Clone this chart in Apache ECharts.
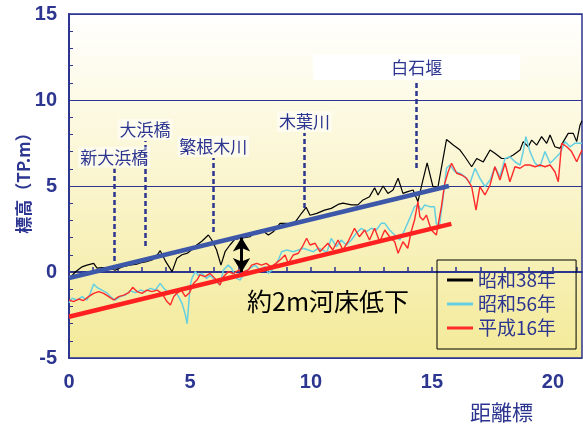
<!DOCTYPE html>
<html>
<head>
<meta charset="utf-8">
<script src="https://cdn.jsdelivr.net/npm/echarts@6/dist/echarts.min.js"></script>
<style>
  html, body { margin: 0; padding: 0; background: #fff; }
  #chart { width: 583px; height: 427px; }
</style>
</head>
<body>
<div id="chart"></div>
<script>
// 河床縦断（距離標 km, 標高 TP.m）
const seriesNames = ['昭和38年', '昭和56年', '平成16年'];

const bedS38 = [
  [0, -0.4], [0.26, 0.0], [0.54, 0.3], [0.74, 0.4], [1.02, 0.5], [1.16, 0.23], [1.36, 0.25], [1.64, 0.25],
  [1.9, 0.1], [2.2, 0.3], [2.5, 0.4], [2.8, 0.45], [3.0, 0.55], [3.2, 0.6], [3.43, 0.7], [3.6, 0.9],
  [3.77, 1.24], [4.0, 0.6], [4.26, 0.02], [4.46, 0.8], [4.67, 1.0], [4.9, 1.1], [5.15, 1.38], [5.28, 1.57],
  [5.5, 1.8], [5.76, 2.15], [5.9, 1.86], [6.1, 1.28], [6.28, 0.4], [6.45, 1.18], [6.65, 1.57], [6.85, 1.9],
  [7.05, 1.95], [7.25, 2.0], [7.48, 2.05], [7.69, 2.34], [7.96, 2.44], [8.24, 2.15], [8.44, 2.34], [8.72, 2.83],
  [9.0, 2.83], [9.2, 2.7], [9.4, 3.0], [9.6, 3.4], [9.8, 3.76], [9.96, 3.3], [10.24, 3.41], [10.56, 3.6],
  [10.84, 3.7], [11.12, 3.93], [11.32, 4.0], [11.67, 3.9], [11.94, 3.9], [12.15, 4.19], [12.42, 4.38], [12.63, 4.9],
  [12.77, 4.48], [12.98, 5.0], [13.18, 4.57], [13.39, 4.77], [13.6, 5.45], [13.8, 4.57], [14.0, 4.67], [14.22, 4.77],
  [14.42, 4.09], [14.6, 5.2], [14.8, 6.35], [15.04, 4.96], [15.25, 4.96], [15.6, 7.7], [15.88, 7.38], [16.16, 7.09],
  [16.36, 6.7], [16.64, 6.12], [16.85, 6.6], [17.12, 6.4], [17.4, 7.09], [17.6, 6.9], [17.88, 6.6], [18.09, 6.6],
  [18.36, 6.8], [18.64, 7.09], [18.77, 7.58], [18.98, 7.28], [19.12, 7.67], [19.33, 7.38], [19.53, 7.87], [19.74, 7.48],
  [19.88, 7.96], [20.08, 7.28], [20.29, 7.19], [20.43, 7.58], [20.63, 8.06], [20.84, 8.06], [20.98, 7.58], [21.12, 8.55],
  [21.2, 8.8]
];

const bedS56 = [
  [0, -1.8], [0.12, -1.53], [0.33, -1.63], [0.54, -1.43], [0.74, -1.63], [0.88, -1.24], [1.02, -0.7], [1.16, -0.9],
  [1.36, -1.05], [1.55, -1.2], [1.71, -1.43], [1.91, -1.63], [2.12, -1.43], [2.33, -1.34], [2.53, -1.09], [2.74, -1.2],
  [2.95, -1.05], [3.15, -1.14], [3.36, -0.95], [3.57, -1.05], [3.77, -0.66], [3.92, -0.95], [4.12, -1.24], [4.33, -1.05],
  [4.53, -1.43], [4.67, -1.82], [4.81, -2.5], [4.88, -3.0], [4.94, -2.0], [5.0, -0.85], [5.08, -0.37], [5.22, 0.02],
  [5.35, -0.2], [5.48, -0.08], [5.69, -0.37], [5.83, -0.17], [6.03, -0.47], [6.24, -0.76], [6.38, 0.12], [6.58, 0.4],
  [6.72, 0.21], [6.93, -0.37], [7.07, -0.47], [7.27, 0.02], [7.48, 0.21], [7.69, 0.4], [7.89, 0.12], [8.1, 0.31],
  [8.24, -0.08], [8.45, 0.2], [8.65, 0.7], [8.79, 1.18], [9.0, 1.28], [9.27, 1.18], [9.48, 1.28], [9.68, 1.38],
  [9.89, 1.28], [10.1, 1.18], [10.3, 1.38], [10.5, 1.28], [10.65, 1.1], [10.84, 1.96], [11.05, 1.47], [11.25, 1.86],
  [11.46, 1.57], [11.67, 1.86], [11.87, 2.25], [12.08, 2.54], [12.29, 2.34], [12.49, 2.54], [12.7, 2.44], [12.9, 2.83],
  [13.05, 2.83], [13.25, 2.44], [13.46, 2.15], [13.67, 1.86], [13.87, 2.44], [14.08, 3.12], [14.28, 3.8], [14.42, 3.9],
  [14.56, 3.6], [14.7, 3.9], [14.9, 3.8], [15.1, 3.8], [15.18, 2.83], [15.3, 2.6], [15.45, 4.19], [15.6, 6.03],
  [15.74, 6.22], [15.95, 5.83], [16.16, 5.74], [16.36, 5.54], [16.57, 5.16], [16.78, 6.03], [16.98, 5.45], [17.19, 4.96],
  [17.4, 5.35], [17.6, 6.12], [17.81, 5.54], [18.02, 6.6], [18.22, 6.7], [18.43, 6.41], [18.64, 6.22], [18.77, 7.0],
  [18.88, 7.87], [19.05, 7.0], [19.26, 6.32], [19.46, 6.12], [19.67, 7.0], [19.88, 6.32], [20.08, 6.6], [20.29, 6.9],
  [20.5, 7.58], [20.7, 7.28], [20.9, 7.48], [21.2, 7.48]
];

const bedH16 = [
  [0, -1.63], [0.19, -1.72], [0.4, -1.57], [0.6, -1.66], [0.81, -1.43], [1.02, -1.24], [1.23, -1.14], [1.43, -1.24],
  [1.64, -1.43], [1.85, -1.63], [2.05, -1.43], [2.26, -1.34], [2.47, -1.2], [2.63, -0.89], [2.81, -1.14], [3.02, -1.24],
  [3.22, -1.05], [3.43, -1.14], [3.64, -1.05], [3.84, -1.24], [4.05, -1.72], [4.19, -1.92], [4.33, -1.43], [4.46, -1.24],
  [4.64, -1.05], [4.81, -1.43], [4.98, -1.2], [5.15, -0.66], [5.29, -0.47], [5.41, -0.17], [5.62, -0.27], [5.83, -0.08],
  [6.03, -0.37], [6.24, -0.76], [6.38, -0.27], [6.58, 0.02], [6.78, -0.1], [7.0, 0.1], [7.2, 0.0], [7.41, 0.12],
  [7.55, 0.4], [7.76, 0.5], [7.96, 0.4], [8.15, 0.5], [8.35, 0.3], [8.55, 0.5], [8.72, 0.7], [8.93, 0.99],
  [9.06, 0.5], [9.27, 0.99], [9.48, 1.09], [9.68, 1.57], [9.82, 1.96], [9.96, 1.57], [10.17, 1.67], [10.37, 1.18],
  [10.5, 1.38], [10.7, 1.67], [10.9, 1.28], [11.12, 1.86], [11.32, 1.28], [11.53, 1.76], [11.8, 2.54], [12.0, 2.05],
  [12.22, 2.44], [12.42, 1.86], [12.63, 2.54], [12.84, 1.76], [13.05, 2.44], [13.25, 2.05], [13.46, 1.76], [13.6, 1.09],
  [13.8, 1.76], [14.0, 1.38], [14.14, 2.34], [14.28, 3.02], [14.42, 4.09], [14.5, 3.21], [14.63, 3.02], [14.77, 3.31],
  [14.97, 2.44], [15.18, 2.15], [15.25, 2.05], [15.39, 3.8], [15.53, 5.16], [15.67, 5.83], [15.81, 6.32], [16.02, 5.74],
  [16.23, 5.64], [16.43, 5.45], [16.64, 4.96], [16.82, 3.6], [16.98, 4.96], [17.19, 4.48], [17.4, 5.06], [17.6, 6.12],
  [17.81, 5.35], [18.02, 6.32], [18.22, 5.25], [18.43, 6.12], [18.64, 6.03], [18.84, 6.22], [19.05, 6.22], [19.26, 6.12],
  [19.46, 6.22], [19.67, 6.12], [19.88, 6.22], [20.08, 5.83], [20.22, 5.25], [20.36, 7.48], [20.57, 7.28], [20.77, 7.0],
  [20.98, 6.41], [21.2, 7.09]
];

// 平均河床の傾向線（始点・終点）
const trendS38 = [[0, -0.35], [15.7, 5.0]];
const trendH16 = [[0, -2.6], [15.8, 2.8]];

// 河床低下量 (m)
const dropKm = 7.13;
const dropFrom = 0;
const dropTo = 2;

// 主要地点（名称、距離標、破線の下端・上端の標高）
const landmarkNames = ['新大浜橋', '大浜橋', '繁根木川', '木葉川', '白石堰'];
const landmarkKm = [1.87, 3.14, 5.96, 9.73, 14.37];
const landmarkLow = [0.64, 1.51, 2.33, 3.72, 6.05];
const landmarkHigh = [6.0, 7.62, 6.63, 8.08, 11.16];

const xTicks = [0, 5, 10, 15, 20];
const yTicks = [-5, 0, 5, 10, 15];

const navy = '#2c3590';
const jpFont = '"Noto Sans CJK JP", "Noto Sans", sans-serif';

const chart = echarts.init(document.getElementById('chart'), null, { renderer: 'canvas' });

const landmarkLines = landmarkNames.map((name, i) => {
  const top = { coord: [landmarkKm[i], landmarkHigh[i]] };
  if (name === '白石堰') {
    top.label = { backgroundColor: '#ffffff', padding: [5, 78, 4, 78], distance: 0 };
  }
  return [{ name: name, coord: [landmarkKm[i], landmarkLow[i]] }, top];
});

const option = {
  animation: false,
  backgroundColor: '#ffffff',
  grid: {
    left: 69, top: 14, right: 1, bottom: 69,
    show: true,
    borderColor: navy,
    borderWidth: 1.5,
    backgroundColor: new echarts.graphic.LinearGradient(0, 0, 0, 1, [
      { offset: 0, color: '#ffffff' },
      { offset: 0.25, color: '#fdfae6' },
      { offset: 1, color: '#f3ea98' }
    ])
  },
  legend: {
    data: seriesNames.map(n => ({ name: n, icon: 'rect' })),
    orient: 'vertical',
    left: 437,
    top: 260,
    padding: [10, 20, 11, 10],
    itemGap: 4,
    itemWidth: 26,
    itemHeight: 3,
    borderColor: '#000',
    borderWidth: 1,
    textStyle: { color: navy, fontSize: 19, fontFamily: jpFont, lineHeight: 20 }
  },
  xAxis: {
    type: 'value',
    min: 0,
    max: 21.2,
    interval: 1,
    axisLine: { lineStyle: { color: navy, width: 2 } },
    axisTick: { inside: true, length: 5, lineStyle: { color: navy, width: 1.5 } },
    axisLabel: {
      formatter: v => (xTicks.indexOf(v) >= 0 ? String(v) : ''),
      showMaxLabel: false,
      color: navy,
      fontSize: 20,
      fontWeight: 'bold',
      fontFamily: '"Liberation Sans", Arial, sans-serif',
      margin: 14
    },
    splitLine: { show: false }
  },
  yAxis: {
    type: 'value',
    min: yTicks[0],
    max: yTicks[yTicks.length - 1],
    interval: 5,
    axisLine: { show: true, lineStyle: { color: navy, width: 2 } },
    axisTick: { show: true, inside: true, length: 4, lineStyle: { color: navy } },
    minorTick: { show: true, splitNumber: 5, length: 4, lineStyle: { color: navy } },
    axisLabel: {
      color: navy,
      fontSize: 20,
      fontWeight: 'bold',
      fontFamily: '"Liberation Sans", Arial, sans-serif',
      margin: 12
    },
    splitLine: { show: true, lineStyle: { color: navy, width: 1.2 } }
  },
  series: [
    {
      name: seriesNames[0], type: 'line', data: bedS38, symbol: 'none',
      lineStyle: { color: '#000000', width: 1.2 }, itemStyle: { color: '#000000' }, z: 3
    },
    {
      name: seriesNames[1], type: 'line', data: bedS56, symbol: 'none',
      lineStyle: { color: '#66d0e2', width: 1.5 }, itemStyle: { color: '#66d0e2' }, z: 3
    },
    {
      name: seriesNames[2], type: 'line', data: bedH16, symbol: 'none',
      lineStyle: { color: '#ff2a2a', width: 1.4 }, itemStyle: { color: '#ff2a2a' }, z: 3
    },
    {
      name: 'trend38', type: 'line', data: trendS38, symbol: 'none',
      lineStyle: { color: '#3d57a9', width: 4.5 }, z: 4
    },
    {
      name: 'trend16', type: 'line', data: trendH16, symbol: 'none',
      lineStyle: { color: '#ff2020', width: 4.5 }, z: 4
    },
    {
      name: 'landmarks', type: 'line', data: [], z: 5,
      markLine: {
        silent: true,
        symbol: ['none', 'none'],
        lineStyle: { color: navy, width: 2.5, type: [5, 3] },
        label: {
          show: true,
          position: 'end',
          distance: 1,
          formatter: p => p.name,
          color: navy,
          fontSize: 17,
          fontFamily: jpFont,
          backgroundColor: 'rgba(255,255,255,0.5)',
          padding: [2, 2]
        },
        data: landmarkLines
      }
    },
    {
      name: 'drop', type: 'line', data: [], z: 6,
      markLine: {
        silent: true,
        symbol: ['arrow', 'arrow'],
        symbolSize: [13, 14],
        lineStyle: { color: '#000000', width: 3, type: 'solid' },
        label: { show: false },
        data: [[{ coord: [dropKm, dropTo] }, { coord: [dropKm, dropFrom] }]]
      }
    }
  ],
  graphic: [
    {
      type: 'text', x: 24, y: 179, rotation: Math.PI / 2, z: 10,
      style: {
        text: '標高（TP.m）', font: 'bold 17px ' + jpFont, fill: navy,
        textAlign: 'center', textVerticalAlign: 'middle'
      }
    },
    {
      type: 'text', left: 247, top: 289, z: 10,
      style: { text: '約2m河床低下', font: '25px ' + jpFont, fill: '#000000' }
    },
    {
      type: 'text', left: 470, top: 402, z: 10,
      style: { text: '距離標', font: '21px ' + jpFont, fill: navy }
    }
  ]
};

chart.setOption(option);
</script>
</body>
</html>
